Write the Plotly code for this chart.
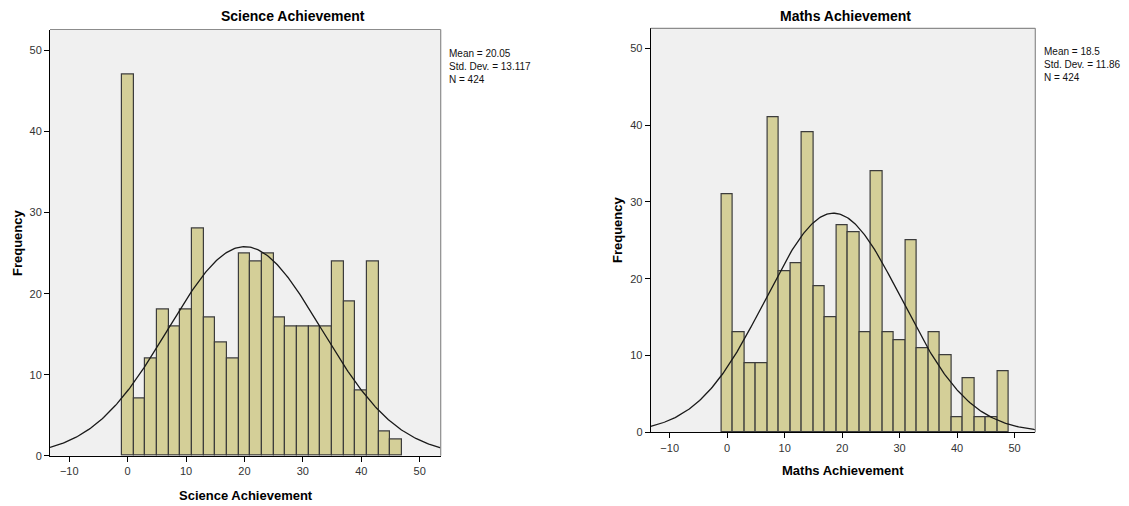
import numpy as np
import plotly.graph_objects as go

# Histogram bins (width 2, centred on even scores)
sci_centers = [0, 2, 4, 6, 8, 10, 12, 14, 16, 18, 20, 22, 24, 26, 28, 30, 32, 34, 36, 38, 40, 42, 44, 46]
sci_counts = [47, 7, 12, 18, 16, 18, 28, 17, 14, 12, 25, 24, 25, 17, 16, 16, 16, 16, 24, 19, 8, 24, 3, 2]
sci_mean, sci_sd, sci_n = 20.05, 13.117, 424

math_centers = [0, 2, 4, 6, 8, 10, 12, 14, 16, 18, 20, 22, 24, 26, 28, 30, 32, 34, 36, 38, 40, 42, 44, 46, 48]
math_counts = [31, 13, 9, 9, 41, 21, 22, 39, 19, 15, 27, 26, 13, 34, 13, 12, 25, 11, 13, 10, 2, 7, 2, 2, 8]
math_mean, math_sd, math_n = 18.5, 11.86, 424

bin_width = 2
x_ticks = [-10, 0, 10, 20, 30, 40, 50]
y_ticks = [0, 10, 20, 30, 40, 50]
x_range = [-13.3, 53.6]
y_range = [0, 52.6]

BAR_FILL = "#d4cf98"
BAR_LINE = "#3c3c3c"
PLOT_BG = "#f0f0f0"
FONT = "Liberation Sans, Arial, sans-serif"


def normal_curve(mean, sd, n):
    xs = np.linspace(x_range[0], x_range[1], 300)
    ys = n * bin_width / (sd * np.sqrt(2 * np.pi)) * np.exp(-0.5 * ((xs - mean) / sd) ** 2)
    return xs, ys


fig = go.Figure()

panels = [
    (sci_centers, sci_counts, sci_mean, sci_sd, sci_n, "x", "y"),
    (math_centers, math_counts, math_mean, math_sd, math_n, "x2", "y2"),
]
for centers, counts, mean, sd, n, xa, ya in panels:
    fig.add_trace(go.Bar(
        x=centers, y=counts, width=bin_width,
        marker=dict(color=BAR_FILL, line=dict(color=BAR_LINE, width=1.2)),
        xaxis=xa, yaxis=ya, showlegend=False, hoverinfo="x+y",
    ))
    cx, cy = normal_curve(mean, sd, n)
    fig.add_trace(go.Scatter(
        x=cx, y=cy, mode="lines", line=dict(color="#1a1a1a", width=1.3),
        xaxis=xa, yaxis=ya, showlegend=False, hoverinfo="skip",
    ))

W, H = 1129, 506
# plot areas in pixels: (left, right, top, bottom)
areas = [(50, 440.7, 29.5, 455.7), (650.7, 1035.3, 28.3, 432.3)]


def dom_x(a):
    return [a[0] / W, a[1] / W]


def dom_y(a):
    return [(H - a[3]) / H, (H - a[2]) / H]


axis_common = dict(
    showline=True, linecolor="#000000", linewidth=1,
    ticks="outside", ticklen=5, tickcolor="#000000",
    showgrid=False, zeroline=False, automargin=False,
    tickfont=dict(family=FONT, size=11, color="#333333"),
)

fig.update_layout(
    width=W, height=H,
    margin=dict(l=0, r=0, t=0, b=0, autoexpand=False),
    paper_bgcolor="white",
    plot_bgcolor=PLOT_BG,
    bargap=0,
    showlegend=False,
    font=dict(family=FONT),
    xaxis=dict(domain=dom_x(areas[0]), range=x_range, tickvals=x_ticks, anchor="y", **axis_common),
    yaxis=dict(domain=dom_y(areas[0]), range=y_range, tickvals=y_ticks, anchor="x", **axis_common),
    xaxis2=dict(domain=dom_x(areas[1]), range=x_range, tickvals=x_ticks, anchor="y2", **axis_common),
    yaxis2=dict(domain=dom_y(areas[1]), range=y_range, tickvals=y_ticks, anchor="x2", **axis_common),
)

# grey top/right frame of each plot area
for xr, yr in [("x domain", "y domain"), ("x2 domain", "y2 domain")]:
    fig.add_shape(type="line", xref=xr, yref=yr, x0=0, x1=1, y0=1, y1=1,
                  line=dict(color="#8c8c8c", width=1.2))
    fig.add_shape(type="line", xref=xr, yref=yr, x0=1, x1=1, y0=0, y1=1,
                  line=dict(color="#8c8c8c", width=1.2))


def px_ann(text, x, y, size, bold=False, xanchor="center", angle=0, color="#000000"):
    fig.add_annotation(
        text=f"<b>{text}</b>" if bold else text,
        x=x / W, y=(H - y) / H, xref="paper", yref="paper",
        xanchor=xanchor, yanchor="middle", showarrow=False, textangle=angle,
        align="left", font=dict(family=FONT, size=size, color=color),
    )


# titles
px_ann("Science Achievement", 292.5, 15.5, 14, bold=True)
px_ann("Maths Achievement", 845, 15.5, 14, bold=True)
# axis titles
px_ann("Science Achievement", 245.5, 495, 13, bold=True)
px_ann("Maths Achievement", 843, 470, 13, bold=True)
px_ann("Frequency", 17, 243, 13, bold=True, angle=-90)
px_ann("Frequency", 617, 230, 13, bold=True, angle=-90)

# summary statistics, one block per panel (middle line centred on y)
stats = [
    (447, 66.5, [f"Mean = {sci_mean:g}", f"Std. Dev. = {sci_sd:g}", f"N = {sci_n}"]),
    (1042, 64, [f"Mean = {math_mean:g}", f"Std. Dev. = {math_sd:g}", f"N = {math_n}"]),
]
for sx, sy, lines in stats:
    px_ann("<br>".join(lines), sx, sy, 10, xanchor="left", color="#111111")

fig.write_html("out.html")
